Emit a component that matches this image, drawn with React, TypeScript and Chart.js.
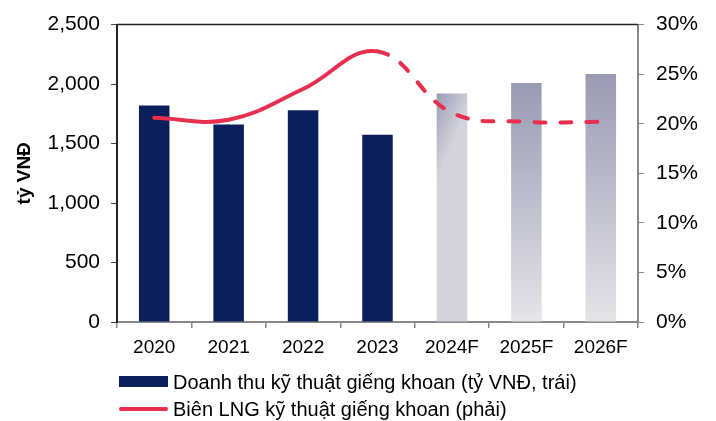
import React, { useEffect, useRef } from "react";
import { Chart, registerables } from "chart.js";

Chart.register(...registerables);

const categories = ["2020", "2021", "2022", "2023", "2024F", "2025F", "2026F"];
const revenue = [1820, 1660, 1780, 1575, 1920, 2010, 2085];
const margin = [20.6, 20.4, 23.5, 27.3, 21.1, 20.2, 20.2];
const forecastStart = 4;
const leftTicks = [0, 500, 1000, 1500, 2000, 2500];
const rightTicks = [0, 5, 10, 15, 20, 25, 30];
const legendLabels = [
  "Doanh thu kỹ thuật giếng khoan (tỷ VNĐ, trái)",
  "Biên LNG kỹ thuật giếng khoan (phải)",
];

const NAVY = "#0b1f5c";
const RED = "#e8304e";
const FONT = "'Liberation Sans', Arial, sans-serif";

const topBorder = {
  id: "topBorder",
  afterDraw(chart: any) {
    const { ctx, chartArea } = chart;
    ctx.save();
    ctx.strokeStyle = "#222";
    ctx.lineWidth = 1.5;
    ctx.beginPath();
    ctx.moveTo(chartArea.left, chartArea.top);
    ctx.lineTo(chartArea.right, chartArea.top);
    ctx.stroke();
    ctx.restore();
  },
};

export default function App() {
  const ref = useRef<HTMLCanvasElement>(null);
  useEffect(() => {
    if (!ref.current) return;
    Chart.defaults.font.family = FONT;
    Chart.defaults.color = "#000";
    const barColor = (c: any) => {
      const i = c.dataIndex;
      if (i < forecastStart) return NAVY;
      const chart = c.chart;
      const xs = chart.scales?.x;
      const ys = chart.scales?.y;
      if (!xs || !ys || !chart.chartArea) return "#b0b2c4";
      const ctx = chart.ctx;
      const top = ys.getPixelForValue(revenue[i]);
      const bottom = ys.getPixelForValue(0);
      if (i === forecastStart) {
        const cx = xs.getPixelForValue(i);
        const g = ctx.createLinearGradient(cx - 16, top, cx + 16, top + (bottom - top) * 0.06);
        g.addColorStop(0, "#9a9db3");
        g.addColorStop(1, "#d2d3dd");
        return g;
      }
      const g = ctx.createLinearGradient(0, top, 0, bottom);
      g.addColorStop(0, "#989bb2");
      g.addColorStop(1, "#e4e4ea");
      return g;
    };
    const chart = new Chart(ref.current, {
      type: "bar",
      data: {
        labels: categories,
        datasets: [
          {
            type: "line",
            label: legendLabels[1],
            data: margin,
            yAxisID: "y1",
            borderColor: RED,
            borderWidth: 4,
            borderCapStyle: "round",
            tension: 0.4,
            pointRadius: 0,
            segment: {
              borderDash: (s: any) => (s.p0DataIndex >= 3 ? [11, 15] : undefined),
            },
            order: 0,
          } as any,
          {
            type: "bar",
            label: legendLabels[0],
            data: revenue,
            yAxisID: "y",
            backgroundColor: barColor,
            categoryPercentage: 1,
            barPercentage: 0.41,
            order: 1,
          },
        ],
      },
      options: {
        animation: false,
        responsive: false,
        layout: { padding: { top: 21, left: 0, right: 0, bottom: 0 } },
        plugins: { legend: { display: false }, tooltip: { enabled: false } },
        scales: {
          x: {
            offset: true,
            grid: {
              display: true,
              offset: true,
              drawOnChartArea: false,
              drawTicks: true,
              tickLength: 6,
              color: "#888",
              lineWidth: 1.5,
            },
            border: { color: "#888", width: 2 },
            ticks: { font: { size: 19, family: FONT }, padding: 8, color: "#000" },
            afterFit: (s: any) => {
              s.height = 99;
            },
          },
          y: {
            position: "left",
            min: 0,
            max: 2500,
            afterBuildTicks: (s: any) => {
              s.ticks = leftTicks.map((v) => ({ value: v }));
            },
            ticks: {
              font: { size: 21, family: FONT },
              padding: 11,
              color: "#000",
              callback: (v: any) => Number(v).toLocaleString("en-US"),
            },
            grid: {
              drawOnChartArea: false,
              tickLength: 6,
              color: "#444",
            },
            border: { color: "#222", width: 2 },
            title: {
              display: true,
              text: "tỷ VNĐ",
              font: { size: 19, weight: "bold", family: FONT },
              color: "#000",
              padding: { top: 13, bottom: 0 },
            },
            afterFit: (s: any) => {
              s.width = 117;
            },
          },
          y1: {
            position: "right",
            min: 0,
            max: 30,
            afterBuildTicks: (s: any) => {
              s.ticks = rightTicks.map((v) => ({ value: v }));
            },
            ticks: {
              font: { size: 21, family: FONT },
              padding: 12,
              color: "#000",
              callback: (v: any) => v + "%",
            },
            grid: {
              drawOnChartArea: false,
              tickLength: 6,
              color: "#888",
            },
            border: { color: "#888", width: 2 },
            afterFit: (s: any) => {
              s.width = 78;
            },
          },
        },
      },
      plugins: [topBorder],
    } as any);
    return () => chart.destroy();
  }, []);

  const textStyle: React.CSSProperties = {
    position: "absolute",
    left: 173,
    fontFamily: FONT,
    fontSize: 20,
    color: "#000",
    whiteSpace: "nowrap",
    lineHeight: "22px",
  };
  return (
    <div style={{ position: "absolute", left: 0, top: 0, width: 716, height: 421, background: "#fff" }}>
      <canvas ref={ref} width={716} height={421} style={{ display: "block" }} />
      <div style={{ position: "absolute", left: 119, top: 376, width: 49, height: 11, background: NAVY }} />
      <div style={{ ...textStyle, top: 371 }}>{legendLabels[0]}</div>
      <div style={{ position: "absolute", left: 119, top: 407, width: 49, height: 4, background: RED, borderRadius: 2 }} />
      <div style={{ ...textStyle, top: 398 }}>{legendLabels[1]}</div>
    </div>
  );
}
